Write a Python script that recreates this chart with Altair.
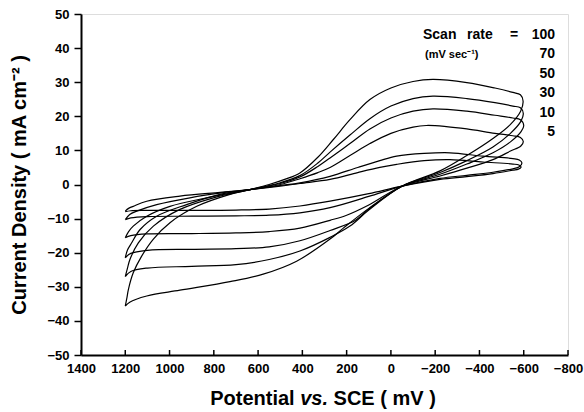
import altair as alt
import pandas as pd

# ---- data (potential in mV, current density in mA cm^-2)
scan_rates = ["100", "70", "50", "30", "10", "5"]

mv_100 = [1200, 1192, 1186, 1164, 1126, 1073, 998, 877, 727, 637, 550, 480, 411, 330, 260, 185, 95, 0, -100, -190, -343, -470, -551, -585, -597,
          -586, -538, -461, -343, -222, -50, 100, 215, 275, 426, 577, 727, 953, 1103, 1180, 1200]
j_100 = [-35.7, -33.0, -30.8, -25.9, -21.0, -16.0, -11.2, -6.4, -2.9, -1.5, 0.0, 1.5, 3.4, 8.0, 13.2, 19.0, 24.9, 28.3, 30.2, 30.8, 29.9, 28.3, 27.0, 26.3, 24.5,
         21.5, 17.5, 13.5, 8.5, 4.0, -0.5, -7.0, -12.8, -16.0, -22.5, -26.3, -28.5, -31.0, -32.7, -34.5, -35.7]

mv_70 = [1200, 1190, 1179, 1141, 1073, 953, 802, 637, 500, 411, 330, 275, 185, 95, 0, -100, -190, -343, -470, -551, -585, -598,
         -587, -540, -461, -343, -222, -50, 100, 185, 275, 411, 550, 700, 900, 1100, 1175, 1200]
j_70 = [-27.0, -24.5, -22.0, -17.1, -12.2, -7.3, -3.9, -1.5, 0.5, 2.6, 6.3, 9.5, 14.5, 19.3, 23.0, 25.2, 25.9, 25.2, 24.0, 23.0, 22.5, 20.8,
        18.5, 15.0, 11.0, 7.0, 3.5, -0.5, -7.5, -12.2, -15.5, -19.5, -22.0, -23.5, -24.0, -24.5, -25.5, -27.0]

mv_50 = [1200, 1190, 1171, 1133, 1058, 923, 772, 637, 500, 411, 330, 275, 185, 95, 0, -100, -190, -343, -470, -551, -585, -600,
         -588, -540, -461, -343, -222, -50, 100, 160, 275, 411, 550, 700, 900, 1100, 1175, 1200]
j_50 = [-21.5, -19.2, -17.1, -13.2, -9.3, -5.9, -2.9, -1.5, 0.3, 2.2, 5.3, 7.8, 12.0, 16.3, 19.5, 21.5, 22.2, 21.5, 20.3, 19.5, 19.0, 17.3,
        15.5, 12.5, 9.3, 6.0, 3.0, -0.5, -7.2, -10.5, -13.5, -16.5, -18.3, -18.8, -19.0, -19.3, -20.2, -21.5]

mv_30 = [1200, 1185, 1164, 1103, 998, 832, 637, 500, 411, 330, 275, 185, 95, 0, -100, -160, -250, -343, -470, -551, -585, -598,
         -587, -540, -461, -343, -222, -50, 100, 200, 275, 411, 550, 700, 900, 1100, 1175, 1200]
j_30 = [-15.6, -13.8, -12.2, -9.3, -6.4, -3.9, -1.5, 0.0, 1.7, 3.5, 5.0, 8.5, 12.0, 15.0, 16.8, 17.3, 17.0, 16.3, 15.0, 14.3, 13.8, 12.6,
        11.3, 9.8, 7.3, 4.8, 2.5, -0.5, -6.0, -9.0, -10.5, -12.8, -13.8, -14.2, -14.4, -14.5, -15.0, -15.6]

mv_10 = [1200, 1180, 1148, 1058, 908, 757, 637, 500, 411, 275, 150, 50, -26, -150, -267, -416, -551, -580, -592,
         -580, -551, -461, -343, -222, -50, 100, 275, 411, 550, 700, 900, 1100, 1175, 1200]
j_10 = [-10.3, -8.8, -7.8, -5.9, -3.9, -2.4, -1.5, -0.3, 0.5, 2.4, 5.0, 7.0, 8.3, 9.1, 9.3, 8.3, 7.6, 7.2, 6.3,
        5.2, 4.6, 3.6, 2.7, 1.8, -0.5, -3.5, -6.8, -8.3, -9.0, -9.2, -9.3, -9.4, -9.8, -10.3]

mv_5 = [1200, 1185, 1164, 1103, 953, 772, 637, 500, 411, 275, 150, 50, -26, -150, -267, -416, -551, -578, -588,
        -576, -551, -461, -343, -222, -50, 100, 275, 411, 550, 700, 900, 1100, 1175, 1200]
j_5 = [-7.8, -7.0, -6.4, -4.9, -3.4, -2.3, -1.5, -0.5, 0.3, 1.5, 3.5, 5.0, 5.9, 7.0, 7.3, 6.6, 6.0, 5.7, 5.1,
       4.5, 4.2, 3.2, 2.3, 1.5, -0.5, -2.7, -4.9, -6.3, -7.2, -7.5, -7.6, -7.6, -7.7, -8.0]

x_ticks = [1400, 1200, 1000, 800, 600, 400, 200, 0, -200, -400, -600, -800]
y_ticks = [-50, -40, -30, -20, -10, 0, 10, 20, 30, 40, 50]

loops = {"100": (mv_100, j_100), "70": (mv_70, j_70), "50": (mv_50, j_50),
         "30": (mv_30, j_30), "10": (mv_10, j_10), "5": (mv_5, j_5)}

rows = []
for rate in scan_rates:
    mvs, js = loops[rate]
    for i, (m, j) in enumerate(zip(mvs, js)):
        rows.append({"rate": rate, "mv": m, "j": j, "order": i})
df = pd.DataFrame(rows)

FONT = "Liberation Sans"
W, H = 487, 341

xscale = alt.Scale(domain=[-800, 1400], reverse=True, nice=False, zero=False)
yscale = alt.Scale(domain=[-50, 50], nice=False, zero=False)

lines = alt.Chart(df).mark_line(color="black", strokeWidth=1.2, interpolate="catmull-rom").encode(
    x=alt.X("mv:Q", scale=xscale, title="",
            axis=alt.Axis(values=x_ticks, format="d", ticks=False, labelPadding=7, labelFontSize=13,
                          labelFontWeight="bold", labelFont=FONT, labelColor="black",
                          domainColor="black", domainWidth=2, grid=False, labelFlush=False,
                          labelOverlap=False)),
    y=alt.Y("j:Q", scale=yscale, title="Current Density ( mA cm\u207b\u00b2 )",
            axis=alt.Axis(values=y_ticks, format="d", tickSize=7, tickColor="black", tickWidth=1.5,
                          labelPadding=5, labelFontSize=13, labelFontWeight="bold",
                          labelFont=FONT, labelColor="black", domainColor="black",
                          domainWidth=2, grid=False, titleFont=FONT, titleFontSize=20,
                          titleFontWeight="bold", titleColor="black", titlePadding=17,
                          labelFlush=False, labelOverlap=False)),
    detail="rate:N",
    order="order:Q",
)

ticks = alt.Chart(pd.DataFrame({"mv": x_ticks})).mark_rule(color="black", strokeWidth=1.5).encode(
    x=alt.X("mv:Q", scale=xscale, title=""),
    y=alt.value(H),
    y2=alt.value(H - 5),
)

one = pd.DataFrame({"a": [0]})


def txt(s, x, y, size, align="left", style="normal", baseline="middle"):
    return alt.Chart(one).mark_text(
        text=s, font=FONT, fontSize=size, fontWeight="bold", fontStyle=style,
        align=align, baseline=baseline, color="black"
    ).encode(x=alt.value(x), y=alt.value(y))


# x-axis title with italic "vs."
ts = 20
w_pot = 4.501 * ts
w_vs = 1.39 * ts
x0 = 242 - (4.501 + 1.39 + 5.39) * ts / 2
title_layers = [
    txt("Potential", x0, 391, ts, baseline="alphabetic"),
    txt("vs.", x0 + w_pot, 391, ts, style="italic", baseline="alphabetic"),
    txt("SCE ( mV )", x0 + w_pot + w_vs + 0.278 * ts, 391, ts, baseline="alphabetic"),
]

legend_layers = [
    txt("Scan", 342, 21, 14),
    txt("rate", 386, 21, 14),
    txt("=", 429, 21, 14),
    txt("(mV sec\u207b\u00b9)", 344, 41, 11),
]
for i, r in enumerate(scan_rates):
    legend_layers.append(txt(r, 474, 21 + i * 19.4, 14, align="right"))

chart = alt.layer(lines, ticks, *title_layers, *legend_layers).properties(
    width=W, height=H,
    padding={"left": 81, "top": 14, "right": 16, "bottom": 57},
    autosize="none",
).configure_view(stroke="black", strokeWidth=1.5).configure(background="white")

chart.save("out.html", embed_options={"renderer": "svg", "actions": False})
